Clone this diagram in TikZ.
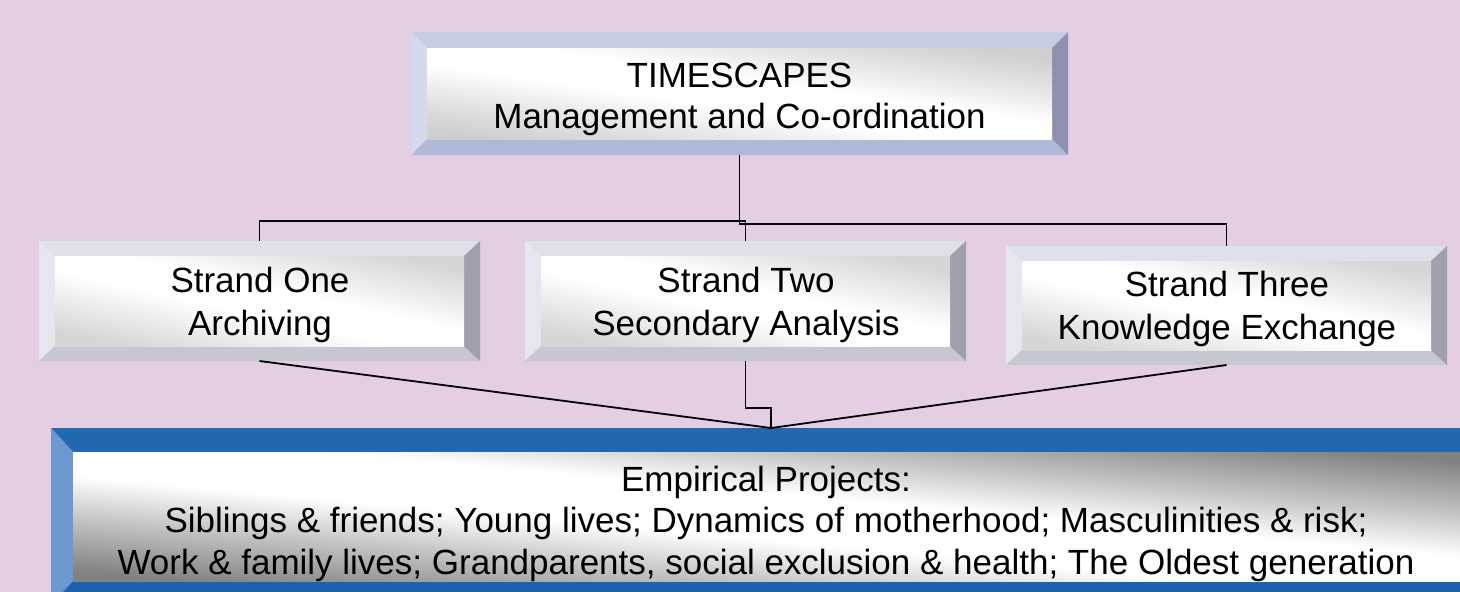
\documentclass[tikz,border=0pt]{standalone}
\usepackage{fontspec}
\setmainfont{Liberation Sans}
\definecolor{bg}{HTML}{E4CEE3}
% top box palette
\definecolor{tbT}{HTML}{C8CCE4}
\definecolor{tbL}{HTML}{D6D9EB}
\definecolor{tbB}{HTML}{B0BAD8}
\definecolor{tbR}{HTML}{8D90B1}
\definecolor{tbG}{HTML}{CFCFCF}
\definecolor{tbM}{HTML}{EAEAEA}
% strand palette
\definecolor{stT}{HTML}{E0E0EA}
\definecolor{stL}{HTML}{E6E6EE}
\definecolor{stB}{HTML}{C6C7D1}
\definecolor{stR}{HTML}{9FA0AC}
\definecolor{stG}{HTML}{D6D6D6}
\definecolor{stM}{HTML}{EEEEEE}
% empirical palette
\definecolor{emT}{HTML}{2268AE}
\definecolor{emL}{HTML}{6B99CF}
\definecolor{emB}{HTML}{1E62AC}
\definecolor{emR}{HTML}{1A5799}
\definecolor{emG}{HTML}{828282}
\definecolor{emM}{HTML}{C4C4C4}
\pgfdeclareverticalshading{tbS}{100bp}{color(0bp)=(tbG); color(25bp)=(tbG); color(37bp)=(tbM); color(45bp)=(white); color(55bp)=(white); color(63bp)=(tbM); color(75bp)=(tbG); color(100bp)=(tbG)}
\pgfdeclareverticalshading{stS}{100bp}{color(0bp)=(stG); color(25bp)=(stG); color(37bp)=(stM); color(45bp)=(white); color(55bp)=(white); color(63bp)=(stM); color(75bp)=(stG); color(100bp)=(stG)}
\pgfdeclareverticalshading{emS}{100bp}{color(0bp)=(emG); color(25bp)=(emG); color(36bp)=(emM); color(45bp)=(white); color(55bp)=(white); color(64bp)=(emM); color(75bp)=(emG); color(100bp)=(emG)}
% #1 x1, #2 y1, #3 x2, #4 y2, #5 bevel x, #6 bevel y, #7 palette
\newcommand\bevelbox[7]{%
  \fill[#7T] (#1,#2) -- (#3,#2) -- (#3-#5,#2+#6) -- (#1+#5,#2+#6) -- cycle;
  \fill[#7L] (#1,#2) -- (#1+#5,#2+#6) -- (#1+#5,#4-#6) -- (#1,#4) -- cycle;
  \fill[#7B] (#1,#4) -- (#1+#5,#4-#6) -- (#3-#5,#4-#6) -- (#3,#4) -- cycle;
  \fill[#7R] (#3,#2) -- (#3,#4) -- (#3-#5,#4-#6) -- (#3-#5,#2+#6) -- cycle;
  \pgfmathsetmacro\bvang{-atan((#4-#2-2*#6)/(#3-#1-2*#5))}%
  \shade[shading=#7S, shading angle=\bvang] (#1+#5,#2+#6) rectangle (#3-#5,#4-#6);
}
\tikzset{
  boxframe/.style={inner sep=0pt, outer sep=0pt},
  boxlabel/.style={inner sep=0pt, outer sep=0pt, align=center, text=black},
  conn/.style={draw=black, line width=1.8pt},
}
\begin{document}
\begin{tikzpicture}[x=1pt, y=-1pt]
\clip (0,0) rectangle (1460,592);
\fill[bg] (0,0) rectangle (1460,592);
% boxes
\bevelbox{411}{32}{1068}{155}{16}{16}{tb}
\bevelbox{39}{241}{480}{361}{16}{15}{st}
\bevelbox{525}{241}{966}{361}{16}{15}{st}
\bevelbox{1006}{246}{1447}{365}{16}{15}{st}
\bevelbox{51}{428}{1491}{605}{22}{24}{em}
% frames (anchors for connectors)
\node[boxframe, minimum width=657pt, minimum height=123pt] (top) at (739.5,93.5) {};
\node[boxframe, minimum width=441pt, minimum height=120pt] (s1) at (259.5,301) {};
\node[boxframe, minimum width=441pt, minimum height=120pt] (s2) at (745.5,301) {};
\node[boxframe, minimum width=441pt, minimum height=119pt] (s3) at (1226.5,305.5) {};
\node[boxframe, minimum width=1440pt, minimum height=177pt] (emp) at (771,516.5) {};
% labels
\node[boxlabel, font=\fontsize{35}{41}\selectfont] (topt) at (739.5,99.5)
  {TIMESCAPES\\Management and Co-ordination};
\node[boxlabel, font=\fontsize{35}{43}\selectfont] (s1t) at (260,305)
  {Strand One\\Archiving};
\node[boxlabel, font=\fontsize{35}{43}\selectfont] (s2t) at (746,305)
  {Strand Two\\Secondary Analysis};
\node[boxlabel, font=\fontsize{35}{43}\selectfont] (s3t) at (1227,309)
  {Strand Three\\Knowledge Exchange};
\node[boxlabel, font=\fontsize{35}{41.5}\selectfont] (empt) at (766,523.5)
  {Empirical Projects:\\Siblings \& friends; Young lives; Dynamics of motherhood; Masculinities \& risk;\\Work \& family lives; Grandparents, social exclusion \& health; The Oldest generation};
% connectors
\draw[conn] (top.south) -- ++(0,66) -| (s1.north);
\draw[conn] (top.south) -- ++(0,66) -| (s2.north);
\draw[conn] (top.south) -- ++(0,69) -| (s3.north);
\draw[conn] (s1.south) -- (emp.north);
\draw[conn] (s3.south) -- (emp.north);
\draw[conn] (s2.south) -- ++(0,47) -| (emp.north);
\end{tikzpicture}
\end{document}
